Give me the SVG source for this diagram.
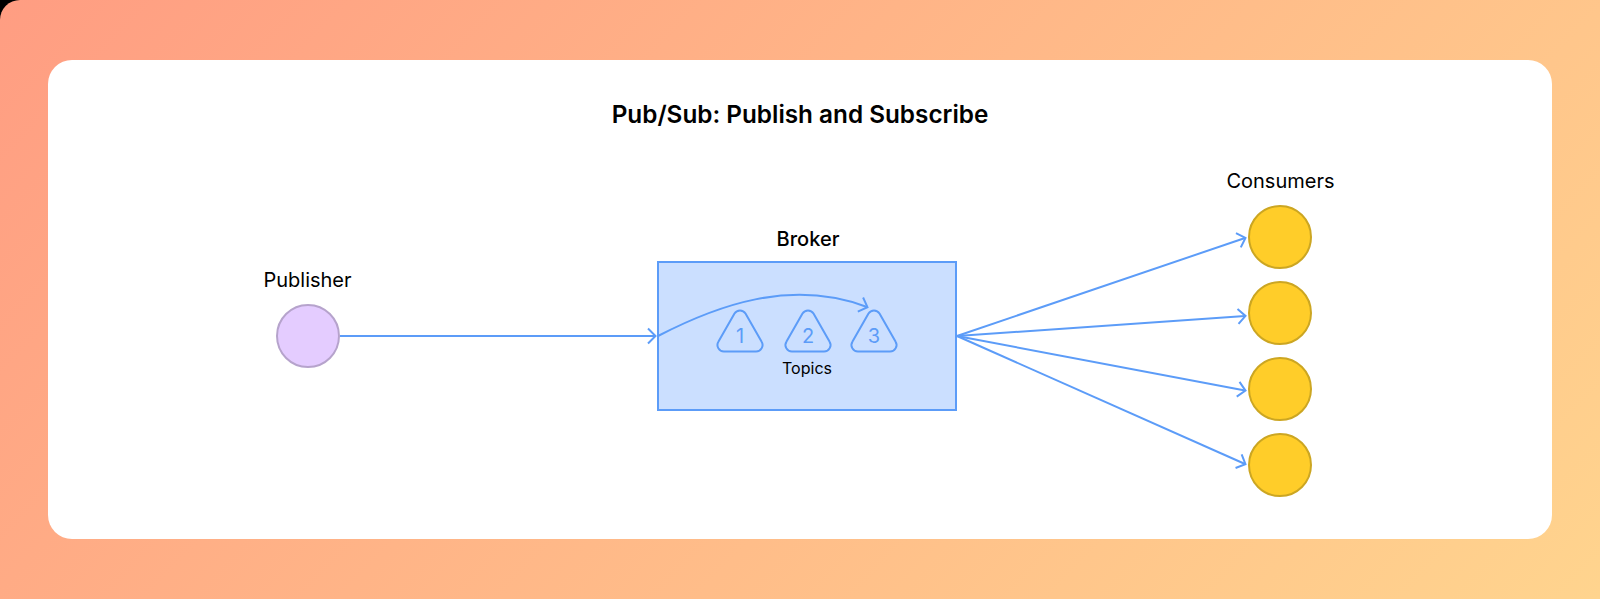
<svg xmlns="http://www.w3.org/2000/svg" width="1600" height="599" viewBox="0 0 1600 599">
<style>
text{font-family:Inter,"Liberation Sans",sans-serif;fill:#000;text-anchor:middle}
.lbl{font-size:20px}
.sb{font-weight:500}
.conn{fill:none;stroke:#5c9cf8;stroke-width:2}
.tri{fill:none;stroke:#5c9cf8;stroke-width:2;stroke-linejoin:round}
.num{font-size:20px;fill:#5c9cf8}
.con{fill:#ffcd29;stroke:#cca622;stroke-width:2}
</style>
<defs>
<linearGradient id="bg" gradientUnits="userSpaceOnUse" x1="0" y1="0" x2="1155" y2="1077">
<stop offset="0" stop-color="#ff9d82"/><stop offset="1" stop-color="#ffd48e"/>
</linearGradient>
<marker id="arr" markerUnits="userSpaceOnUse" markerWidth="16" markerHeight="20" refX="12" refY="10" orient="auto" overflow="visible">
<path d="M5 2.5L12.5 10L5 17.5" fill="none" stroke="#5c9cf8" stroke-width="2"/>
</marker>
<path id="tri" class="tri" d="M-5.5 313.5a6.5 6.5 0 0 1 11 0L21.5 341.5a6.5 6.5 0 0 1 -5.5 10H-16a6.5 6.5 0 0 1 -5.5 -10Z"/>
</defs>
<rect width="1600" height="599" fill="#000"/>
<path id="backdrop" d="M20 0H1600V599H0V20A20 20 0 0 1 20 0Z" fill="url(#bg)"/>
<rect id="panel" x="48" y="60" width="1504" height="479" rx="24" fill="#fff"/>
<text id="title" x="800" y="123" font-size="24.3px" font-weight="600">Pub/Sub: Publish and Subscribe</text>
<g id="broker">
<rect x="658" y="262" width="298" height="148" fill="#cbdfff" stroke="#5c9cf8" stroke-width="2"/>
<text class="lbl sb" x="808" y="246">Broker</text>
<text x="807" y="374" font-size="16px">Topics</text>
</g>
<g id="topic1"><use href="#tri" x="740"/><text class="num" x="740" y="343">1</text></g>
<g id="topic2"><use href="#tri" x="808"/><text class="num" x="808" y="343">2</text></g>
<g id="topic3"><use href="#tri" x="874"/><text class="num" x="874" y="343">3</text></g>
<g id="publisher">
<circle cx="308" cy="336" r="31" fill="#e4ccff" stroke="#b6a3cc" stroke-width="2"/>
<text class="lbl" x="307.5" y="287">Publisher</text>
</g>
<g id="consumers-label"><text class="lbl" x="1280.5" y="188">Consumers</text></g>
<g id="consumer1"><circle class="con" cx="1280" cy="237" r="31"/></g>
<g id="consumer2"><circle class="con" cx="1280" cy="313" r="31"/></g>
<g id="consumer3"><circle class="con" cx="1280" cy="389" r="31"/></g>
<g id="consumer4"><circle class="con" cx="1280" cy="465" r="31"/></g>
<g id="connectors">
<path class="conn" marker-end="url(#arr)" d="M340 336H655"/>
<path class="conn" marker-end="url(#arr)" d="M658 336C716 306 790 278 867 307"/>
<path class="conn" marker-end="url(#arr)" d="M957 336L1245 238"/>
<path class="conn" marker-end="url(#arr)" d="M957 336L1245 316"/>
<path class="conn" marker-end="url(#arr)" d="M957 336L1245 390.5"/>
<path class="conn" marker-end="url(#arr)" d="M957 336L1245 464"/>
</g>
</svg>
